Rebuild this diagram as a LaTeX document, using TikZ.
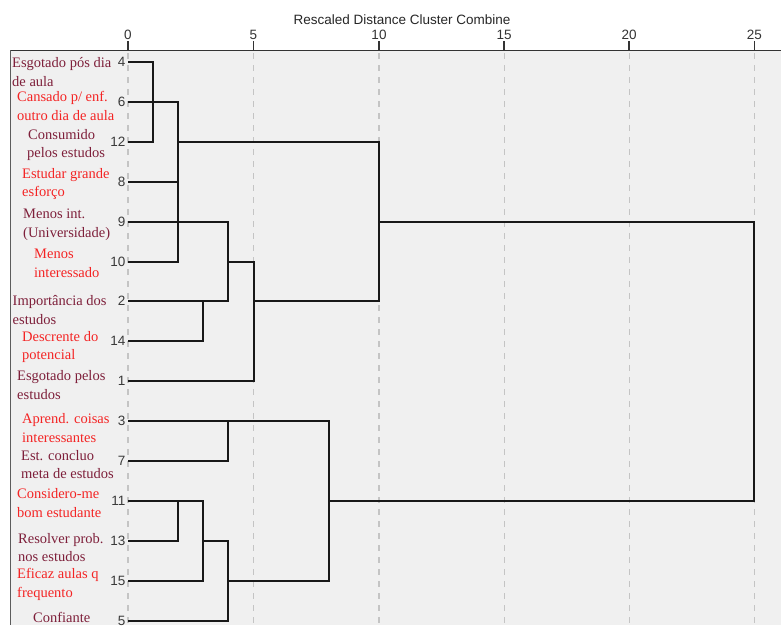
\documentclass[tikz,border=0pt]{standalone}
\usepackage{fontspec}
\setmainfont{Liberation Serif}
\newfontfamily\numfont{Liberation Sans}
\definecolor{darklab}{HTML}{7E1F3A}
\definecolor{redlab}{HTML}{F42424}
\definecolor{bgpanel}{HTML}{F0F0F0}
\definecolor{gridc}{HTML}{C4C4C4}
\definecolor{axisc}{HTML}{333333}
\definecolor{numc}{HTML}{3A3A3A}
\tikzset{
  lab/.style={anchor=west, inner sep=0pt, align=left, font=\fontsize{14.5}{18.5}\selectfont},
  labd/.style={lab, text=darklab},
  labr/.style={lab, text=redlab},
  num/.style={anchor=east, inner sep=0pt, text=numc, font=\numfont\fontsize{13.5}{15}\selectfont},
  axnum/.style={inner sep=0pt, text=axisc, font=\numfont\fontsize{13.5}{15}\selectfont},
  gridline/.style={draw=gridc, line width=1.2pt, dash pattern=on 6pt off 6pt},
  tree/.style={draw=black!90, line width=2pt, line join=miter},
}
\begin{document}
\begin{tikzpicture}[x=1pt,y=-1pt]
\useasboundingbox (0,0) rectangle (781,625);
\clip (0,0) rectangle (781,625);
% panel
\fill[bgpanel] (10,51) rectangle (781,625);
% grid
\foreach \gx in {128,253.5,379,504.1,629.2,754.3}{
  \draw[gridline] (\gx,53) -- (\gx,625);
}
% axis
\node[font=\numfont\fontsize{13.5}{15}\selectfont, text=black!85, inner sep=0pt] (title) at (402,20) {Rescaled Distance Cluster Combine};
\draw[axisc, line width=1.8pt] (10,50.5) -- (781,50.5);
\draw[axisc!80, line width=1.5pt] (10.5,50) -- (10.5,625);
\foreach \gx/\lab in {128/0,253.5/5,379/10,504.1/15,629.2/20,754.3/25}{
  \draw[axisc, line width=1.5pt] (\gx,41) -- (\gx,51);
  \node[axnum] at (\gx,35) {\lab};
}
% leaves
\coordinate (l4) at (128,62);
\coordinate (l6) at (128,102);
\coordinate (l12) at (128,142);
\coordinate (l8) at (128,182);
\coordinate (l9) at (128,222);
\coordinate (l10) at (128,261.5);
\coordinate (l2) at (128,301);
\coordinate (l14) at (128,341);
\coordinate (l1) at (128,381);
\coordinate (l3) at (128,421);
\coordinate (l7) at (128,461);
\coordinate (l11) at (128,501);
\coordinate (l13) at (128,541);
\coordinate (l15) at (128,581);
\coordinate (l5) at (128,620.5);
% merge points
\coordinate (j1) at (153.1,102);
\coordinate (jA) at (178.2,142);
\coordinate (j214) at (203.3,301);
\coordinate (j9) at (228.4,261.5);
\coordinate (j5) at (253.5,301);
\coordinate (jTop) at (379,222);
\coordinate (j37) at (228.4,421);
\coordinate (jB) at (328.8,501);
\coordinate (j1113) at (178.2,501);
\coordinate (j15) at (203.3,541);
\coordinate (j5b) at (228.4,581);
\coordinate (jRoot) at (754.3,361);
% tree
\draw[tree] (l4) -| (j1) |- (l12);
\draw[tree] (l6) -| (jA);
\draw[tree] (l8) -- (l8 -| jA);
\draw[tree] (l10) -| (jA);
\draw[tree] (l14) -| (j214);
\draw[tree] (l9) -| (j9);
\draw[tree] (l2) -| (j9);
\draw[tree] (j9) -| (j5);
\draw[tree] (l1) -| (j5);
\draw[tree] (jA) -| (jTop);
\draw[tree] (j5) -| (jTop);
\draw[tree] (l7) -| (j37);
\draw[tree] (l3) -| (jB);
\draw[tree] (l13) -| (j1113);
\draw[tree] (l11) -| (j15);
\draw[tree] (l15) -| (j15);
\draw[tree] (j15) -| (j5b);
\draw[tree] (l5) -| (j5b);
\draw[tree] (j5b) -| (jB);
\draw[tree] (jTop) -| (jRoot) |- (jB);
% case numbers
\node[num] (n4) at (125.5,62) {4};
\node[num] (n6) at (125.5,102) {6};
\node[num] (n12) at (125.5,142) {12};
\node[num] (n8) at (125.5,182) {8};
\node[num] (n9) at (125.5,222) {9};
\node[num] (n10) at (125.5,261.5) {10};
\node[num] (n2) at (125.5,301) {2};
\node[num] (n14) at (125.5,341) {14};
\node[num] (n1) at (125.5,381) {1};
\node[num] (n3) at (125.5,421) {3};
\node[num] (n7) at (125.5,461) {7};
\node[num] (n11) at (125.5,501) {11};
\node[num] (n13) at (125.5,541) {13};
\node[num] (n15) at (125.5,581) {15};
\node[num] (n5) at (125.5,620.5) {5};
% labels
\node[labd] (t4) at (12,72) {Esgotado pós dia\\de aula};
\node[labr] (t6) at (17,106) {Cansado p/ enf.\\outro dia de aula};
\node[labd] (t12) at (27,145) {\hspace{1pt}Consumido\\pelos estudos};
\node[labr] (t8) at (22,184) {Estudar grande\\esforço};
\node[labd] (t9) at (23,224.5) {Menos int.\\(Universidade)};
\node[labr] (t10) at (34,263.5) {Menos\\interessado};
\node[labd] (t2) at (12.5,310) {Importância dos\\estudos};
\node[labr] (t14) at (22,347) {Descrente do\\potencial};
\node[labd] (t1) at (17,385) {Esgotado pelos\\estudos};
\node[labr] (t3) at (22,428) {Aprend. coisas\\interessantes};
\node[labd] (t7) at (21,464.5) {Est. concluo\\meta de estudos};
\node[labr] (t11) at (17,503) {Considero-me\\bom estudante};
\node[labd] (t13) at (18,547.5) {Resolver prob.\\nos estudos};
\node[labr] (t15) at (17,584.5) {Eficaz aulas q\\frequento};
\node[labd] (t5) at (33,617) {Confiante};
\end{tikzpicture}
\end{document}
